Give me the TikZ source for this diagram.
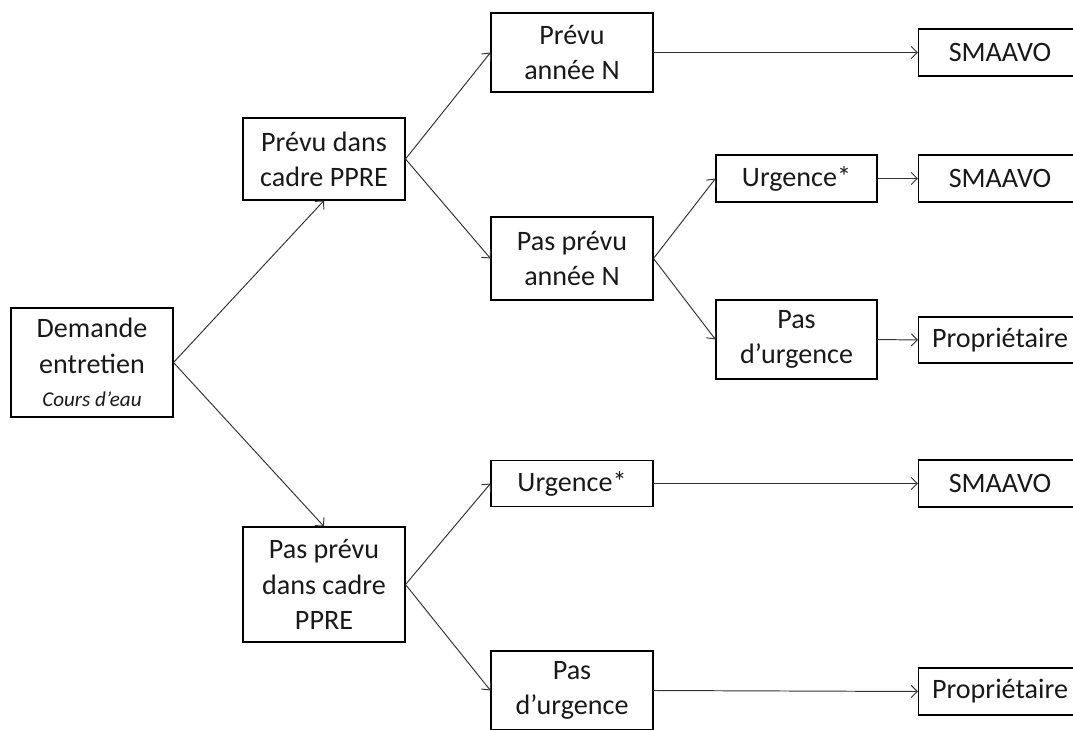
\documentclass[tikz,border=0pt]{standalone}
\usepackage{fontspec}
\setmainfont{Carlito}
\usetikzlibrary{arrows.meta}
\begin{document}
\begin{tikzpicture}[x=0.02cm,y=-0.02cm,
  box/.style={draw=black,line width=0.6pt,rectangle,inner sep=0pt,align=center,
    font=\fontsize{16}{20}\selectfont,text=black!90},
  endbox/.style={box,minimum width=3.82cm,minimum height=0.94cm},
  conn/.style={draw=black!80,line width=0.55pt,-{Straight Barb[length=3.5pt,width=7pt]}}]
\useasboundingbox (0,0) rectangle (1073,730);
\clip (0,0) rectangle (1073,730);
% column 1
\node[box,minimum width=3.24cm,minimum height=2.18cm] (dem) at (92,362.5)
  {\fontsize{16}{17.5}\selectfont Demande\\entretien\\[-1pt]{\fontsize{12}{14}\selectfont\itshape Cours d’eau}};
% column 2
\node[box,minimum width=3.24cm,minimum height=1.64cm] (pc) at (324,159) {Prévu dans\\cadre PPRE};
\node[box,minimum width=3.24cm,minimum height=2.30cm] (ppc) at (324,584.5) {Pas prévu\\dans cadre\\PPRE};
% column 3
\node[box,minimum width=3.24cm,minimum height=1.58cm] (pan) at (572,52.5) {Prévu\\année N};
\node[box,minimum width=3.24cm,minimum height=1.66cm] (ppan) at (572,258.5) {Pas prévu\\année N};
\node[box,minimum width=3.24cm,minimum height=0.92cm] (urg2) at (572,483.5) {Urgence*};
\node[box,minimum width=3.24cm,minimum height=1.58cm] (pdu2) at (572,690.5) {Pas\\d’urgence};
% column 4
\node[box,minimum width=3.22cm,minimum height=0.94cm] (urg1) at (796.5,178.5) {Urgence*};
\node[box,minimum width=3.22cm,minimum height=1.58cm] (pdu1) at (796.5,339.5) {Pas\\d’urgence};
% column 5 (cut by the right edge)
\node[endbox] (sm1) at (1014,52.5) {SMAAVO\hspace*{0.56cm}};
\node[endbox] (sm2) at (1014,178.5) {SMAAVO\hspace*{0.56cm}};
\node[endbox,minimum height=0.92cm] (prop1) at (1014,340) {Propriétaire\hspace*{0.56cm}};
\node[endbox] (sm3) at (1014,483.5) {SMAAVO\hspace*{0.56cm}};
\node[endbox] (prop2) at (1014,691.5) {Propriétaire\hspace*{0.56cm}};
% connectors
\draw[conn] (dem.east) -- (pc.south);
\draw[conn] (dem.east) -- (ppc.north);
\draw[conn] (pc.east) -- (pan.west);
\draw[conn] (pc.east) -- (ppan.west);
\draw[conn] (ppan.east) -- (urg1.west);
\draw[conn] (ppan.east) -- (pdu1.west);
\draw[conn] (ppc.east) -- (urg2.west);
\draw[conn] (ppc.east) -- (pdu2.west);
\draw[conn] (pan.east) -- (sm1.west);
\draw[conn] (urg1.east) -- (sm2.west);
\draw[conn] (pdu1.east) -- (prop1.west);
\draw[conn] (urg2.east) -- (sm3.west);
\draw[conn] (pdu2.east) -- (prop2.west);
\end{tikzpicture}
\end{document}
